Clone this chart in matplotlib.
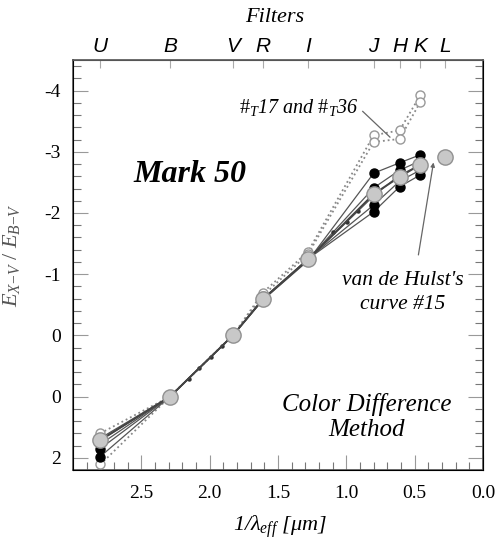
import matplotlib
matplotlib.use("Agg")
import matplotlib.pyplot as plt
import numpy as np

plt.rcParams['font.family'] = ['Liberation Serif', 'DejaVu Serif']
plt.rcParams['mathtext.fontset'] = 'custom'
plt.rcParams['mathtext.rm'] = 'Liberation Serif'
plt.rcParams['mathtext.it'] = 'Liberation Serif:italic'

# filter positions (1/lambda_eff, um^-1)
filters = ['U', 'B', 'V', 'R', 'I', 'J', 'H', 'K', 'L']
fx = [2.80, 2.29, 1.83, 1.61, 1.28, 0.80, 0.61, 0.46, 0.28]

# van de Hulst's curve #15 (U..L)
vdh = [1.71, 1.0, 0.0, -0.59, -1.24, -2.31, -2.59, -2.79, -2.92]

# stars, colour difference method (U..K)
blk1 = [1.98, 1.0, 0.0, -0.58, -1.22, -2.65, -2.82, -2.95]
blk2 = [1.85, 1.0, 0.0, -0.59, -1.24, -2.41, -2.70, -2.85]
blk3 = [1.78, 1.0, 0.0, -0.59, -1.24, -2.28, -2.62, -2.78]
blk4 = [1.72, 1.0, 0.0, -0.60, -1.25, -2.13, -2.52, -2.70]
blk5 = [1.68, 1.0, 0.0, -0.60, -1.25, -2.02, -2.43, -2.62]

# #T17 and #T36 (U..K)
t17 = [1.60, 1.0, 0.0, -0.70, -1.37, -3.27, -3.35, -3.92]
t36 = [2.11, 1.0, 0.0, -0.65, -1.33, -3.16, -3.21, -3.81]

# small intermediate points
mid_x = [2.15, 2.076, 1.988, 1.907, 1.10, 0.995, 0.915]
mid_y = [0.72, 0.54, 0.36, 0.18, -1.69, -1.86, -2.04]

yticks = [-4, -3, -2, -1, 0, 1, 2]
ytlabels = ['-4', '-3', '-2', '-1', '0', '0', '2']

fig = plt.figure(figsize=(4.97, 5.48), dpi=100)
ax = fig.add_axes([73/497, 1-470/548, 410/497, 410/548])

for s in [t17, t36]:
    ax.plot(fx[:8], s, ':', color='#888888', lw=1.3, zorder=2)
    ax.plot(fx[:8], s, 'o', ms=6.5, mfc='white', mec='#999999', mew=1.0, zorder=3)

for s in [blk1, blk2, blk3, blk4, blk5]:
    ax.plot(fx[:8], s, '-', color='#555555', lw=0.9, zorder=4)
    ax.plot(fx[2:8], s[2:], 'o', ms=6.5, color='black', zorder=5)
ax.plot(fx[0], blk1[0], 'o', ms=6.5, color='black', zorder=5)
ax.plot(fx[0], blk2[0], 'o', ms=6.5, color='black', zorder=5)

ax.plot(mid_x, mid_y, 'o', ms=2.2, color='#333333', zorder=5)

ax.plot(fx[:8], vdh[:8], '-', color='#444444', lw=1.4, zorder=6)
ax.plot(fx, vdh, 'o', ms=11, mfc='#c8c8c8', mec='#909090', mew=1.0, zorder=7)

ax.set_xlim(3.0, 0.0)
ax.set_ylim(2.2, -4.5)
ax.set_xticks([2.5, 2.0, 1.5, 1.0, 0.5, 0.0])
ax.set_xticklabels(['2.5', '2.0', '1.5', '1.0', '0.5', '0.0'])
ax.set_xticks(np.arange(0.1, 3.0, 0.1), minor=True)
ax.set_yticks(yticks)
ax.set_yticklabels(ytlabels)
ax.set_yticks(np.arange(-4.4, 2.2, 0.2), minor=True)
ax.tick_params(axis='both', which='major', direction='in', length=11, width=0.8,
               color='#999999', labelsize=14, pad=9, right=True)
ax.tick_params(axis='both', which='minor', direction='in', length=6, width=0.8,
               color='#777777', right=True)
ax.tick_params(axis='x', pad=11)
for sp in ax.spines.values():
    sp.set_color('#555555')
    sp.set_linewidth(1.2)

top = ax.twiny()
top.set_xlim(ax.get_xlim())
top.set_xticks(fx)
top.set_xticklabels(filters, family=['Liberation Sans', 'DejaVu Sans'], style='italic')
top.tick_params(direction='in', length=6, width=0.8, color='#aaaaaa', labelsize=15, pad=3)
top.spines['top'].set_color('#555555')

fig.text(275/497, 1-18/548, 'Filters', ha='center', va='center', fontsize=16, style='italic')

ax.set_xlabel(r'1/$\lambda_{eff}$ [$\mu$m]', fontsize=16, style='italic')
ax.xaxis.set_label_coords(0.505, -0.105)
ax.set_ylabel(r'$E_{X\mathrm{-}V}\ /\ E_{B\mathrm{-}V}$', fontsize=16, color='#555555')
ax.yaxis.set_label_coords(-0.125, 0.524)

ax.text(2.144, -2.637, 'Mark 50', ha='center', va='center', fontsize=23,
        weight='bold', style='italic')
ax.text(1.35, -3.73, r'$\#_T$17 and $\#_T$36', ha='center', va='center',
        fontsize=14.5, style='italic')
ax.plot([0.88, 0.681], [-3.66, -3.24], '-', color='#666666', lw=0.9)
ax.text(0.586, -0.70, "van de Hulst's\ncurve #15", ha='center', va='center',
        fontsize=15.5, style='italic', linespacing=1.3)
ax.annotate('', xy=(0.359, -2.87), xytext=(0.476, -1.27),
            arrowprops=dict(arrowstyle='-|>', color='#666666', lw=0.9,
                            mutation_scale=6))
ax.text(0.849, 1.333, 'Color Difference\nMethod', ha='center', va='center',
        fontsize=18, style='italic', linespacing=1.2)

fig.savefig('out.png', dpi=100)
